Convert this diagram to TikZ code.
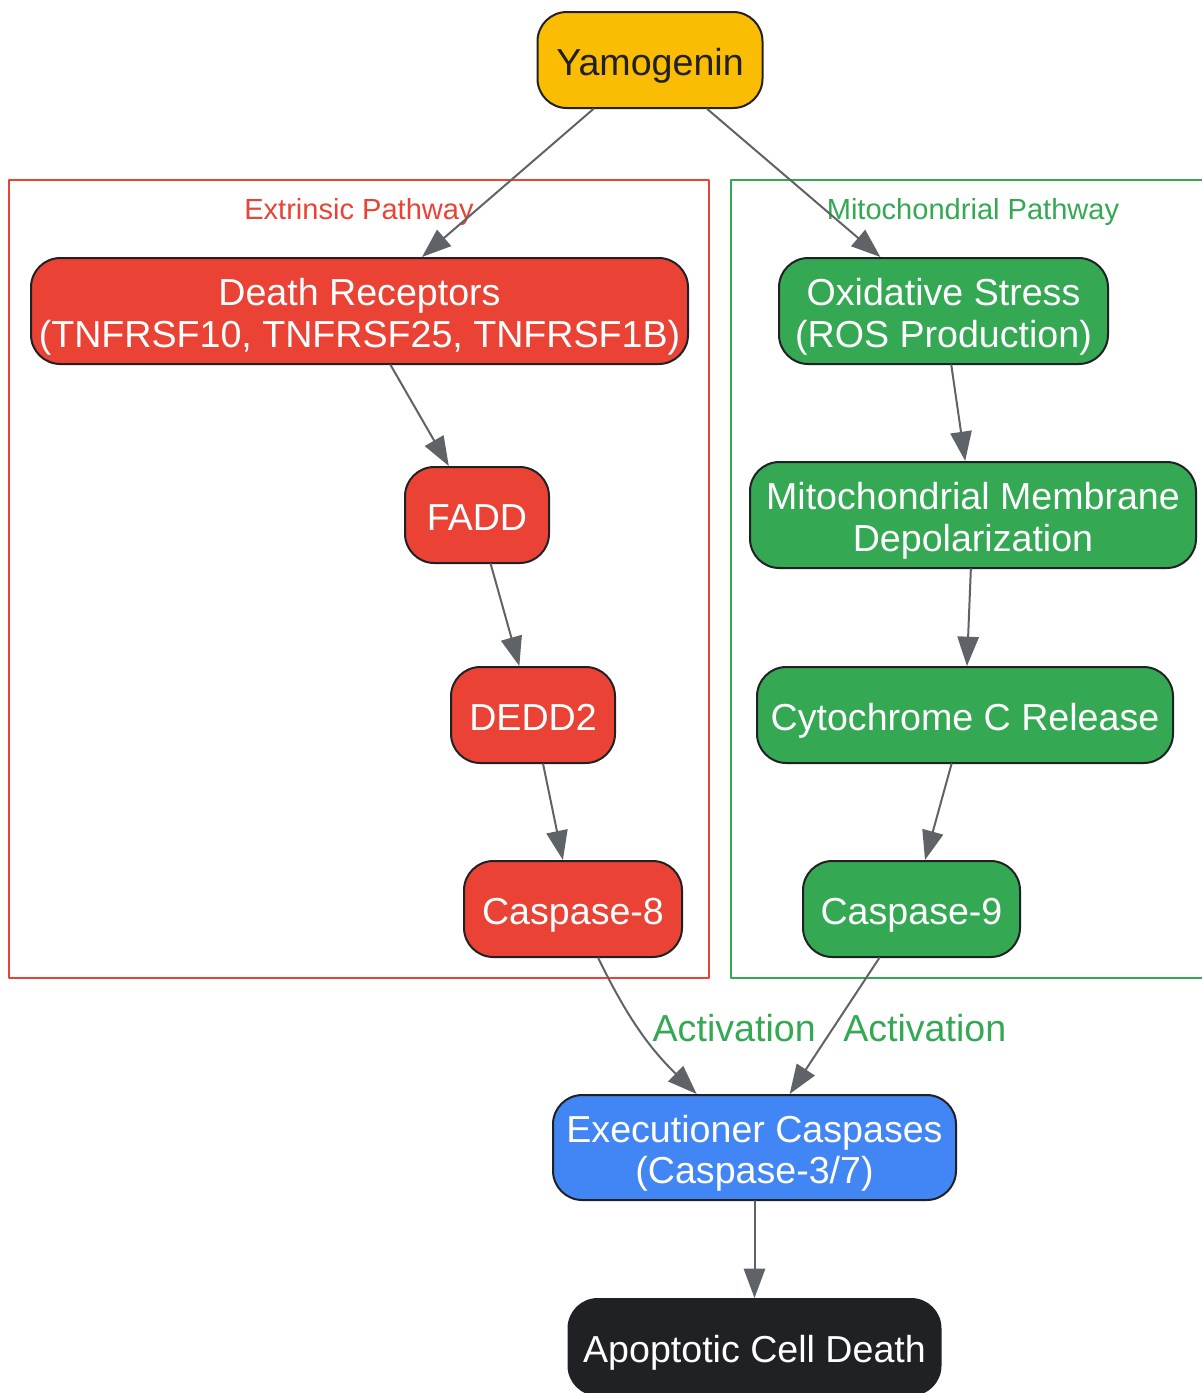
\documentclass[tikz,border=0pt]{standalone}
\usepackage{fontspec}
\setmainfont{Liberation Sans}
\usetikzlibrary{arrows.meta}
\definecolor{yam}{HTML}{FBBC04}
\definecolor{extr}{HTML}{EA4335}
\definecolor{mito}{HTML}{34A853}
\definecolor{execblue}{HTML}{4285F4}
\definecolor{ink}{HTML}{202124}
\definecolor{wire}{HTML}{5F6368}

\begin{document}
\begin{tikzpicture}[x=0.75pt,y=0.75pt,line cap=round,line join=round,
  box/.style={draw=ink,line width=1.5pt,rounded corners=22pt,align=center,
    minimum height=72pt,inner sep=0pt,text=white,font=\fontsize{28.2}{31}\selectfont,
    text height=31pt,text depth=7.8pt},
  twoline/.style={minimum height=79.5pt,text height=62pt},
  flow/.style={draw=wire,line width=1.5pt,-{Triangle[length=22pt,width=16pt]}},
  cluster/.style={line width=1.5pt,line cap=butt},
  tag/.style={font=\fontsize{21.8}{26}\selectfont},
  act/.style={text=mito,font=\fontsize{28.2}{31}\selectfont,anchor=west}]
  % Page frame, one pixel per unit.
  \clip (0,0) rectangle (1202,-1393);

  % Pathway clusters.
  \draw[cluster,extr] (9,-180) rectangle (709,-978);
  \draw[cluster,mito] (731,-180) rectangle (1220,-978);
  \node[tag,text=extr] (extrtag) at (359,-212) {Extrinsic Pathway};
  \node[tag,text=mito] (mitotag) at (973,-212) {Mitochondrial Pathway};

  % Trigger.
  \node[box,fill=yam,text=ink,minimum width=168.75pt] (yam) at (650,-60) {Yamogenin};

  % Extrinsic chain.
  \node[box,twoline,fill=extr,minimum width=492.75pt] (dr) at (359.5,-311)
    {Death Receptors\\(TNFRSF10, TNFRSF25, TNFRSF1B)};
  \node[box,fill=extr,minimum width=108pt] (fadd) at (477,-515) {FADD};
  \node[box,fill=extr,minimum width=123pt] (dedd) at (533,-715) {DEDD2};
  \node[box,fill=extr,minimum width=163.5pt] (casp8) at (573,-909) {Caspase-8};

  % Mitochondrial chain.
  \node[box,twoline,fill=mito,minimum width=246.75pt] (ros) at (943.5,-311)
    {Oxidative Stress\\(ROS Production)};
  \node[box,twoline,fill=mito,minimum width=334.5pt] (mmp) at (973,-515)
    {Mitochondrial Membrane\\Depolarization};
  \node[box,fill=mito,minimum width=312pt] (cytc) at (965,-715) {Cytochrome C Release};
  \node[box,fill=mito,minimum width=162.75pt] (casp9) at (911.5,-909) {Caspase-9};

  % Common end.
  \node[box,twoline,fill=execblue,minimum width=302.25pt,minimum height=78.75pt] (execc) at (754.5,-1147.5)
    {Executioner Caspases\\(Caspase-3/7)};
  \node[box,fill=ink,minimum width=279pt] (death) at (754.5,-1347) {Apoptotic Cell Death};

  % Connectors.
  \draw[flow] (yam) -- (dr);
  \draw[flow] (yam) -- (ros);
  \draw[flow] (dr) -- (fadd);
  \draw[flow] (fadd) -- (dedd);
  \draw[flow] (dedd) -- (casp8);
  \draw[flow] (ros) -- (mmp);
  \draw[flow] (mmp) -- (cytc);
  \draw[flow] (cytc) -- (casp9);
  \draw[flow] (casp8) to[bend right=10] node[act,pos=0.5,xshift=5pt,yshift=2pt] (act8) {Activation} (execc);
  \draw[flow] (casp9) -- node[act,pos=0.5,xshift=2.5pt,yshift=-1.5pt] (act9) {Activation} (execc);
  \draw[flow] (execc) -- (death);
\end{tikzpicture}
\end{document}
